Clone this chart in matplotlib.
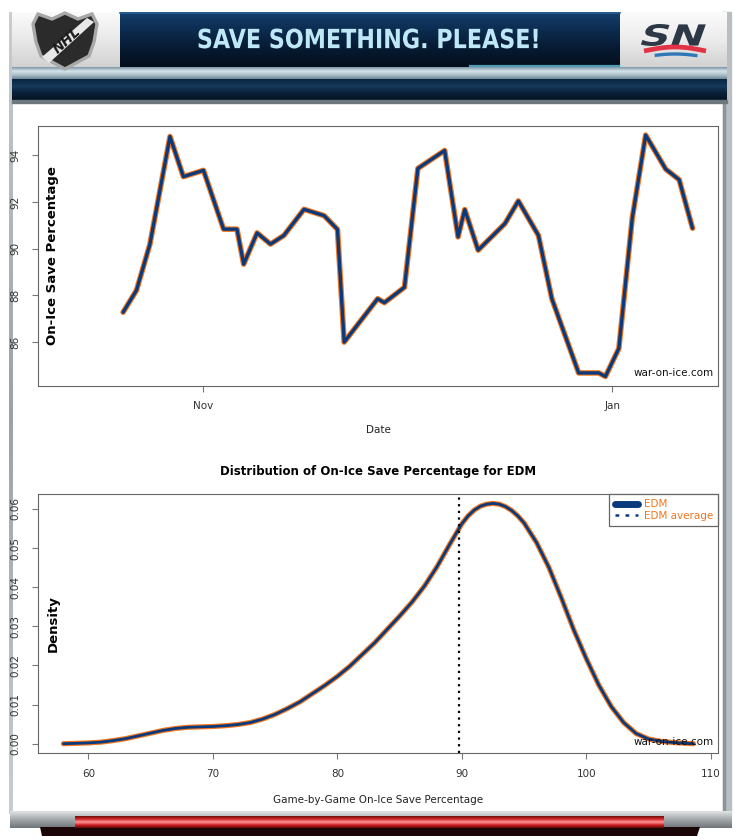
import datetime as dt
import numpy as np
import matplotlib
matplotlib.use('Agg')
import matplotlib.pyplot as plt
import matplotlib.dates as mdates
import matplotlib.patheffects as pe
from matplotlib.patches import Polygon, Rectangle, PathPatch
from matplotlib.lines import Line2D
from matplotlib.textpath import TextPath
from matplotlib.font_manager import FontProperties
from matplotlib.transforms import Affine2D

# game-by-game on-ice save percentage (rolling), EDM
gameDates = ['2014-10-20', '2014-10-22', '2014-10-24', '2014-10-27', '2014-10-29',
             '2014-11-01', '2014-11-04', '2014-11-06', '2014-11-07', '2014-11-09',
             '2014-11-11', '2014-11-13', '2014-11-16', '2014-11-19', '2014-11-21',
             '2014-11-22', '2014-11-27', '2014-11-28', '2014-12-01', '2014-12-03',
             '2014-12-07', '2014-12-09', '2014-12-10', '2014-12-12', '2014-12-16',
             '2014-12-18', '2014-12-21', '2014-12-23', '2014-12-27', '2014-12-30',
             '2014-12-31', '2015-01-02', '2015-01-04', '2015-01-06', '2015-01-09',
             '2015-01-11', '2015-01-13']
savePct = [87.28, 88.22, 90.19, 94.81, 93.09,
           93.36, 90.84, 90.84, 89.34, 90.68,
           90.20, 90.57, 91.69, 91.42, 90.83,
           86.00, 87.86, 87.69, 88.35, 93.44,
           94.21, 90.51, 91.68, 89.94, 91.08,
           92.05, 90.57, 87.86, 84.68, 84.68,
           84.53, 85.73, 91.31, 94.87, 93.41,
           92.96, 90.88]

# density curve of the save percentage
densX = [58.0, 59.0, 60.0, 61.0, 62.0, 63.0, 64.0, 65.0, 66.0, 67.0,
         68.0, 69.0, 70.0, 71.0, 72.0, 73.0, 74.0, 75.0, 76.0, 77.0,
         78.0, 79.0, 80.0, 81.0, 82.0, 83.0, 84.0, 85.0, 86.0, 87.0,
         88.0, 89.0, 90.0, 90.5, 91.0, 91.5, 92.0, 92.5, 93.0, 93.5,
         94.0, 94.5, 95.0, 96.0, 97.0, 98.0, 99.0, 100.0, 101.0, 102.0,
         103.0, 104.0, 105.0, 106.0, 107.0, 108.0, 108.6]
densY = [0.0000, 0.0001, 0.0002, 0.0004, 0.0008, 0.0013, 0.0020, 0.0027, 0.0034, 0.0039,
         0.0042, 0.0043, 0.0044, 0.0046, 0.0049, 0.0054, 0.0063, 0.0075, 0.0090, 0.0107,
         0.0128, 0.0149, 0.0172, 0.0198, 0.0228, 0.0258, 0.0292, 0.0326, 0.0362, 0.0403,
         0.0452, 0.0508, 0.0562, 0.0582, 0.0597, 0.0607, 0.0612, 0.0614, 0.0612, 0.0606,
         0.0596, 0.0582, 0.0564, 0.0514, 0.0450, 0.0372, 0.0290, 0.0217, 0.0150, 0.0095,
         0.0054, 0.0026, 0.0012, 0.0006, 0.0003, 0.0001, 0.0000]
teamAvg = 89.8

yTicksTop = [86, 88, 90, 92, 94]
xTicksBottom = [60, 70, 80, 90, 100, 110]
yTicksBottom = [0.00, 0.01, 0.02, 0.03, 0.04, 0.05, 0.06]

NAVY = '#0b3a7c'
ORANGE = '#f0761f'
W, H = 740, 840


def fig_rect(l, t, r, b):
    # pixel box -> figure fraction
    return [l / W, 1 - b / H, (r - l) / W, (b - t) / H]


def vgrad(ax, x0, x1, y0, y1, colors, z=1):
    cols = np.array([matplotlib.colors.to_rgb(c) for c in colors])
    n = 64
    pos = np.linspace(0, 1, len(cols))
    t = np.linspace(0, 1, n)
    arr = np.stack([np.interp(t, pos, cols[:, k]) for k in range(3)], axis=1)
    ax.imshow(arr[:, None, :], extent=[x0, x1, y1, y0], aspect='auto',
              interpolation='bilinear', zorder=z)


def boxText(ax, s, cx, cy, width, height, color, z, slant=0):
    # bold text drawn as a path, stretched to fill a pixel box
    tp = TextPath((0, 0), s, size=100, prop=FontProperties(family='DejaVu Sans', weight='bold'))
    ext = tp.get_extents()
    tr = (Affine2D().translate(-(ext.x0 + ext.x1) / 2, -(ext.y0 + ext.y1) / 2)
          .skew_deg(slant, 0)
          .scale(width / ext.width, -height / ext.height).translate(cx, cy))
    ax.add_patch(PathPatch(tr.transform_path(tp), fc=color, ec='none', zorder=z))


def drawFrame(fig):
    bg = fig.add_axes([0, 0, 1, 1], zorder=0)
    bg.set_xlim(0, W)
    bg.set_ylim(H, 0)
    bg.axis('off')

    # side rails
    vgrad(bg, 9, 13, 12, 814, ['#c8cdd0', '#9aa2a6', '#c8cdd0'])
    bg.add_patch(Rectangle((723, 12), 8, 802, color='#b8bec2', zorder=1))
    bg.add_patch(Rectangle((723, 12), 2, 802, color='#8d9397', zorder=2))

    # banner pieces
    vgrad(bg, 12, 120, 12, 67, ['#fbfbfb', '#e9e9e9', '#d2d2d2'], z=2)
    vgrad(bg, 620, 727, 12, 67, ['#fbfbfb', '#ececec', '#d2d2d2'], z=2)
    vgrad(bg, 120, 620, 12, 67, ['#15406c', '#0c2b4f', '#071a31', '#040e1c'], z=2)
    bg.plot([120, 620], [13, 13], color='#2a5f92', lw=1.2, zorder=3)
    bg.plot([470, 620], [65.5, 65.5], color='#6fd8f5', lw=1.6, alpha=0.7, zorder=3)
    vgrad(bg, 12, 727, 67, 79, ['#7d95a4', '#d5e3ea', '#a9bfca', '#6f8796'], z=2)
    vgrad(bg, 12, 727, 79, 100, ['#0b2440', '#16395c', '#0a2038', '#061324'], z=2)
    bg.add_patch(Rectangle((12, 100), 715, 3, color='#6c777e', zorder=3))

    # title
    boxText(bg, 'SAVE SOMETHING. PLEASE!', 368, 38.5, 339, 20, '#bfe8f7', 4)

    # NHL shield
    shield = [(38, 14), (52, 19), (65, 13), (78, 19), (92, 14), (97, 24),
              (94, 42), (89, 56), (65, 69), (41, 56), (36, 42), (33, 24)]
    bg.add_patch(Polygon(shield, closed=True, fc='#2b2b2b', ec='#a8a8a8', lw=2.4, zorder=4))
    bg.add_patch(Polygon([(42, 57), (49, 63), (94, 22), (87, 18)], closed=True,
                         fc='#e8e8e8', ec='none', zorder=5))
    bg.text(67, 40, 'NHL', rotation=42, ha='center', va='center', fontsize=10,
            fontweight='bold', style='italic', color='#1a1a1a', zorder=6)

    # SN mark
    boxText(bg, 'SN', 673, 35, 58, 22, '#2d3846', 4, slant=14)
    arcX = np.linspace(644, 706, 30)
    bg.plot(arcX, 51 - 4 * np.sin(np.pi * (arcX - 644) / 62), color='#e23346',
            lw=3.4, solid_capstyle='butt', zorder=4)
    bg.plot(arcX[5:26], 57 - 3 * np.sin(np.pi * (arcX[5:26] - 644) / 62), color='#2f78b8',
            lw=2.4, solid_capstyle='butt', zorder=4)

    # bottom rail
    vgrad(bg, 10, 732, 811, 828, ['#e2e4e5', '#a3a8ab', '#6e7478'], z=2)
    bg.add_patch(Polygon([(40, 827), (700, 827), (697, 836), (42, 836)], closed=True,
                         fc='#1a0606', ec='none', zorder=2))
    vgrad(bg, 75, 664, 816, 828, ['#6a120e', '#d42424', '#ff9a9a', '#cf2020', '#5a0b08'], z=3)


def styleLine(line, core=2.2, edge=4.2):
    line.set_linewidth(core)
    line.set_solid_joinstyle('round')
    line.set_solid_capstyle('round')
    line.set_path_effects([pe.Stroke(linewidth=edge, foreground=ORANGE,
                                     joinstyle='round', capstyle='round'), pe.Normal()])


def createTop(fig):
    ax = fig.add_axes(fig_rect(38, 126, 718, 386), zorder=2)
    dates = [mdates.date2num(dt.datetime.strptime(d, '%Y-%m-%d')) for d in gameDates]
    line, = ax.plot(dates, savePct, color=NAVY)
    styleLine(line, core=2.4, edge=4.0)

    nov1 = mdates.date2num(dt.datetime(2014, 11, 1))
    jan1 = mdates.date2num(dt.datetime(2015, 1, 1))
    ax.set_xlim(nov1 - 24.7, jan1 + 15.8)
    ax.set_ylim(84.12, 95.26)
    ax.set_xticks([nov1, jan1])
    ax.set_xticklabels(['Nov', 'Jan'])
    ax.set_yticks(yTicksTop)
    ax.set_yticklabels([str(v) for v in yTicksTop], rotation=90, va='center')
    ax.tick_params(labelsize=7.5, labelcolor='#333333', color='#777777', length=4, pad=9)
    ax.tick_params(axis='x', pad=7)
    for s in ax.spines.values():
        s.set_color('#666666')
    ax.set_xlabel('Date', fontsize=7.5, color='#222222', labelpad=10)
    ax.text(0.022, 0.5, 'On-Ice Save Percentage', transform=ax.transAxes, rotation=90,
            ha='center', va='center', fontsize=9.5, fontweight='bold')
    ax.text(0.993, 0.03, 'war-on-ice.com', transform=ax.transAxes, ha='right',
            va='bottom', fontsize=7.5, color='#111111')


def createBottom(fig):
    ax = fig.add_axes(fig_rect(38.3, 494, 718.3, 753.3), zorder=2)
    line, = ax.plot(densX, densY, color=NAVY)
    styleLine(line, core=2.0, edge=3.7)
    ax.axvline(teamAvg, color='black', lw=1.6, linestyle=(0, (1, 2)))

    ax.set_xlim(55.98, 110.6)
    ax.set_ylim(-0.00245, 0.0638)
    ax.set_xticks(xTicksBottom)
    ax.set_yticks(yTicksBottom)
    ax.set_yticklabels(['%.2f' % v for v in yTicksBottom], rotation=90, va='center')
    ax.tick_params(labelsize=7.5, labelcolor='#333333', color='#777777', length=4, pad=9)
    ax.tick_params(axis='x', pad=7)
    for s in ax.spines.values():
        s.set_color('#666666')
    ax.set_title('Distribution of On-Ice Save Percentage for EDM', fontsize=8.5,
                 fontweight='bold', pad=14)
    ax.set_xlabel('Game-by-Game On-Ice Save Percentage', fontsize=7.5, color='#222222',
                  labelpad=12)
    ax.text(0.022, 0.5, 'Density', transform=ax.transAxes, rotation=90,
            ha='center', va='center', fontsize=9.5, fontweight='bold')
    ax.text(0.993, 0.025, 'war-on-ice.com', transform=ax.transAxes, ha='right',
            va='bottom', fontsize=7.5, color='#111111')

    handles = [Line2D([], [], color=NAVY, lw=5, solid_capstyle='round'),
               Line2D([], [], color=NAVY, lw=1.8, linestyle=(0, (1.5, 2.5)))]
    leg = ax.legend(handles, ['EDM', 'EDM average'], loc='upper right', fontsize=7.5,
                    fancybox=False, framealpha=1, edgecolor='#666666',
                    borderaxespad=0, handlelength=2.2, handletextpad=0.6,
                    labelspacing=0.15, borderpad=0.5, labelcolor=ORANGE)
    leg.get_frame().set_linewidth(0.9)


if __name__ == '__main__':
    fig = plt.figure(figsize=(7.4, 8.4), dpi=100)
    drawFrame(fig)
    createTop(fig)
    createBottom(fig)
    fig.savefig('out.png', dpi=100)
